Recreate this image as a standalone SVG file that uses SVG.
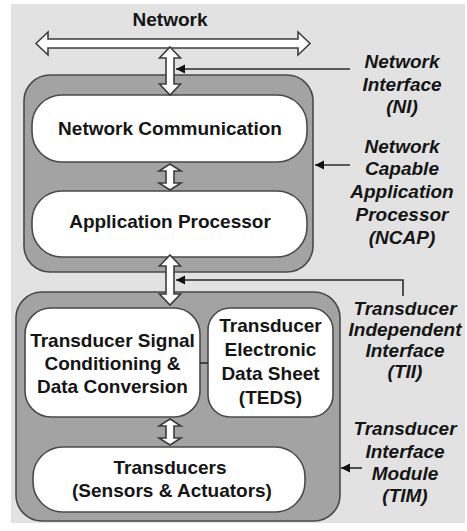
<svg xmlns="http://www.w3.org/2000/svg" width="467" height="531" viewBox="0 0 467 531">
<style>
.bg{fill:#e2e2e2}
.outer{fill:#a3a3a3;stroke:#4a4a4a;stroke-width:1.6}
.inner{fill:#ffffff;stroke:#4a4a4a;stroke-width:1.6}
.arr{fill:#ffffff;stroke:#3c3c3c;stroke-width:1.6;stroke-linejoin:miter}
.t{font-family:"Liberation Sans",Arial,sans-serif;font-weight:bold;font-size:19px;fill:#151515;text-anchor:middle}
.lab{font-family:"Liberation Sans",Arial,sans-serif;font-weight:bold;font-style:italic;font-size:19px;fill:#151515;text-anchor:middle}
.ptr{fill:none;stroke:#2a2a2a;stroke-width:1.6}
</style>
<defs>
<marker id="head" markerWidth="10" markerHeight="10" refX="9" refY="5" orient="auto" markerUnits="userSpaceOnUse">
<path d="M0,0.5 L9,5 L0,9.5 Z" fill="#111"/>
</marker>
</defs>
<rect class="bg" x="11" y="4" width="454" height="519"/>

<g id="network">
<text class="t" x="170" y="26">Network</text>
</g>

<g id="ncap">
<rect class="outer" x="24" y="75" width="289" height="197" rx="26" ry="26"/>
</g>
<g id="network-communication">
<rect class="inner" x="32" y="95" width="275" height="67" rx="30" ry="30"/>
<text class="t" x="170" y="135">Network Communication</text>
</g>
<g id="application-processor">
<rect class="inner" x="32" y="191" width="275" height="66" rx="30" ry="30"/>
<text class="t" x="170" y="228">Application Processor</text>
</g>

<g id="tim">
<rect class="outer" x="16" y="292" width="324" height="229" rx="26" ry="26"/>
</g>
<g id="signal-conditioning">
<rect class="inner" x="25" y="308" width="175" height="109" rx="26" ry="26"/>
<text class="t" x="112.5" y="347">Transducer Signal</text>
<text class="t" x="112.5" y="370">Conditioning &amp;</text>
<text class="t" x="112.5" y="393">Data Conversion</text>
</g>
<g id="teds">
<rect class="inner" x="208" y="308" width="125" height="109" rx="22" ry="22"/>
<text class="t" x="270.5" y="332">Transducer</text>
<text class="t" x="270.5" y="356">Electronic</text>
<text class="t" x="270.5" y="380">Data Sheet</text>
<text class="t" x="270.5" y="404">(TEDS)</text>
</g>
<g id="transducers">
<rect class="inner" x="33" y="447" width="272" height="65" rx="30" ry="30"/>
<text class="t" x="170" y="474">Transducers</text>
<text class="t" x="172" y="497">(Sensors &amp; Actuators)</text>
</g>

<g id="label-ni">
<text class="lab" x="402" y="68">Network</text>
<text class="lab" x="402" y="91">Interface</text>
<text class="lab" x="402" y="113">(NI)</text>
</g>
<g id="label-ncap">
<text class="lab" x="402" y="153">Network</text>
<text class="lab" x="402" y="175">Capable</text>
<text class="lab" x="402" y="198">Application</text>
<text class="lab" x="402" y="221">Processor</text>
<text class="lab" x="402" y="244">(NCAP)</text>
</g>
<g id="label-tii">
<text class="lab" x="405" y="315">Transducer</text>
<text class="lab" x="405" y="336">Independent</text>
<text class="lab" x="405" y="357">Interface</text>
<text class="lab" x="405" y="378">(TII)</text>
</g>
<g id="label-tim">
<text class="lab" x="405" y="435">Transducer</text>
<text class="lab" x="405" y="458">Interface</text>
<text class="lab" x="405" y="480">Module</text>
<text class="lab" x="405" y="502">(TIM)</text>
</g>

<g id="connectors">
<polygon class="arr" points="36,43.5 48,32 48,39 298,39 298,32 310,43.5 298,55 298,48 48,48 48,55"/>
<polygon class="arr" points="170,47 180.5,58 174,58 174,84 180.5,84 170,95 159.5,84 166,84 166,58 159.5,58"/>
<polygon class="arr" points="170,164 181,171 174,171 174,183 181,183 170,190 159,183 166,183 166,171 159,171"/>
<polygon class="arr" points="170,255 180.5,266 174,266 174,294 180.5,294 170,305 159.5,294 166,294 166,266 159.5,266"/>
<polygon class="arr" points="170,419 181,426 174,426 174,438 181,438 170,445 159,438 166,438 166,426 159,426"/>
<line class="ptr" x1="200" y1="363" x2="208" y2="363"/>
<line class="ptr" x1="350" y1="69" x2="176" y2="69" marker-end="url(#head)"/>
<line class="ptr" x1="350" y1="165" x2="315" y2="165" marker-end="url(#head)"/>
<polyline class="ptr" points="403,296 403,280 176,280" marker-end="url(#head)"/>
<line class="ptr" x1="362" y1="468" x2="341" y2="468" marker-end="url(#head)"/>
</g>
</svg>
